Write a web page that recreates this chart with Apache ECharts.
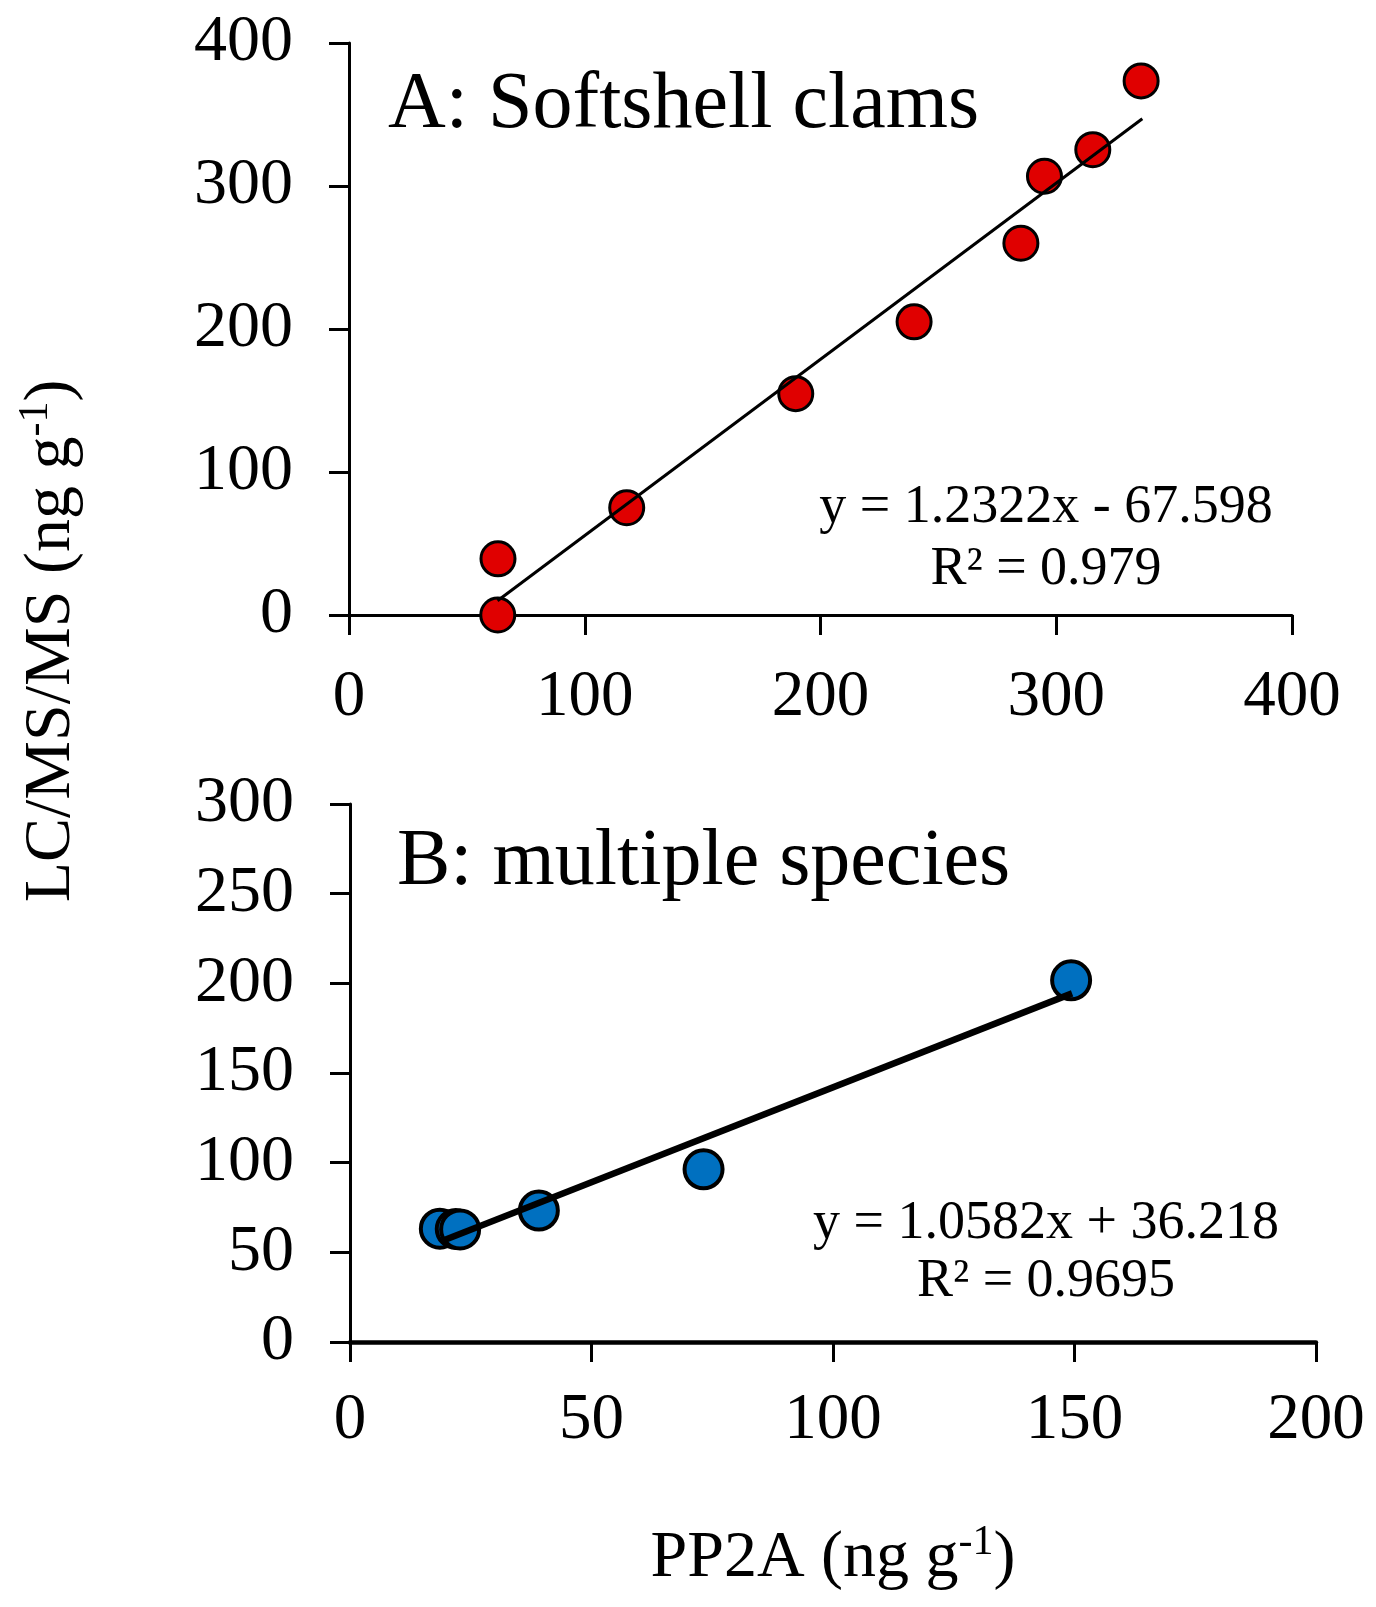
<!DOCTYPE html>
<html>
<head>
<meta charset="utf-8">
<script src="https://cdn.jsdelivr.net/npm/echarts@6/dist/echarts.min.js"></script>
<style>
  html, body { margin: 0; padding: 0; background: #fff; }
  #chart { width: 1376px; height: 1607px; }
</style>
</head>
<body>
<div id="chart"></div>
<script>
// panel A: softshell clams (PP2A vs LC/MS/MS, ng/g)
const clamPoints = [
    [63.2, 39.3], [63.1, 0], [117.8, 75], [189.5, 154.8], [239.7, 205],
    [285, 260], [295, 306.8], [315.5, 325.4], [336, 373.5]
];
const clamTrend = [[63, 10.0], [336.5, 347]];
const clamEquation = ['y = 1.2322x - 67.598', 'R² = 0.979'];

// panel B: multiple species
const speciesPoints = [
    [18.6, 63.2], [21.9, 63], [22.8, 62.8], [39.1, 73.3], [73.2, 96.3], [149.3, 201.7]
];
const speciesTrend = [[19.3, 56.6], [149.5, 194.4]];
const speciesEquation = ['y = 1.0582x + 36.218', 'R² = 0.9695'];

const FONT = '"Liberation Serif", "Times New Roman", serif';

let myChart = echarts.init(document.getElementById('chart'), null, {renderer: 'canvas'});

function axisStyle(lineWidth) {
    return {
        axisLine: {show: true, onZero: false, lineStyle: {color: '#000', width: lineWidth}},
        axisTick: {show: true, length: 20, lineStyle: {color: '#000', width: 3}},
        splitLine: {show: false}
    };
}

const titleRich = {
    a: {fontFamily: FONT, fontSize: 66, color: '#000', lineHeight: 74},
    s: {fontFamily: FONT, fontSize: 42, color: '#000', lineHeight: 50, verticalAlign: 'top'}
};

myChart.setOption({
    backgroundColor: '#fff',
    animation: false,
    grid: [
        {left: 349, top: 43, width: 943, height: 572},
        {left: 350, top: 804, width: 966, height: 538}
    ],
    xAxis: [
        Object.assign({
            type: 'value', gridIndex: 0, min: 0, max: 400, interval: 100,
            axisLabel: {fontFamily: FONT, fontSize: 65, color: '#000', margin: 50}
        }, axisStyle(3)),
        Object.assign({
            type: 'value', gridIndex: 1, min: 0, max: 200, interval: 50,
            axisLabel: {fontFamily: FONT, fontSize: 65, color: '#000', margin: 46}
        }, axisStyle(4.5))
    ],
    yAxis: [
        Object.assign({
            type: 'value', gridIndex: 0, min: 0, max: 400, interval: 100,
            axisLabel: {fontFamily: FONT, fontSize: 66, color: '#000', margin: 56}
        }, axisStyle(3)),
        Object.assign({
            type: 'value', gridIndex: 1, min: 0, max: 300, interval: 50,
            axisLabel: {fontFamily: FONT, fontSize: 66, color: '#000', margin: 56}
        }, axisStyle(3))
    ],
    series: [
        {
            type: 'scatter', xAxisIndex: 0, yAxisIndex: 0,
            data: clamPoints, symbolSize: 34, z: 2,
            itemStyle: {color: '#e00000', borderColor: '#000', borderWidth: 3, opacity: 1}
        },
        {
            type: 'line', xAxisIndex: 0, yAxisIndex: 0,
            data: clamTrend, showSymbol: false, z: 3,
            lineStyle: {color: '#000', width: 3}
        },
        {
            type: 'scatter', xAxisIndex: 1, yAxisIndex: 1,
            data: speciesPoints, symbolSize: 38, z: 2,
            itemStyle: {color: '#0070c0', borderColor: '#000', borderWidth: 4, opacity: 1}
        },
        {
            type: 'line', xAxisIndex: 1, yAxisIndex: 1,
            data: speciesTrend, showSymbol: false, z: 3,
            lineStyle: {color: '#000', width: 6.5}
        }
    ],
    graphic: [
        // panel titles
        {type: 'text', left: 388, top: 66, style: {text: 'A: Softshell clams', font: '80px ' + FONT, fill: '#000'}},
        {type: 'text', left: 397, top: 823, style: {text: 'B: multiple species', font: '80px ' + FONT, fill: '#000'}},
        // regression equations
        {type: 'text', x: 1046, y: 508, style: {text: clamEquation[0], font: '54px ' + FONT, fill: '#000', align: 'center', verticalAlign: 'middle'}},
        {type: 'text', x: 1046, y: 570, style: {text: clamEquation[1], font: '54px ' + FONT, fill: '#000', align: 'center', verticalAlign: 'middle'}},
        {type: 'text', x: 1046, y: 1224, style: {text: speciesEquation[0], font: '54px ' + FONT, fill: '#000', align: 'center', verticalAlign: 'middle'}},
        {type: 'text', x: 1046, y: 1282, style: {text: speciesEquation[1], font: '54px ' + FONT, fill: '#000', align: 'center', verticalAlign: 'middle'}},
        // axis titles
        {
            type: 'text', x: 52, y: 641, rotation: Math.PI / 2,
            style: {text: '{a|LC/MS/MS (ng g}{s|-1}{a|)}', rich: titleRich, align: 'center', verticalAlign: 'middle'}
        },
        {
            type: 'text', x: 833, y: 1559,
            style: {text: '{a|PP2A (ng g}{s|-1}{a|)}', rich: titleRich, align: 'center', verticalAlign: 'middle'}
        }
    ]
});
</script>
</body>
</html>
